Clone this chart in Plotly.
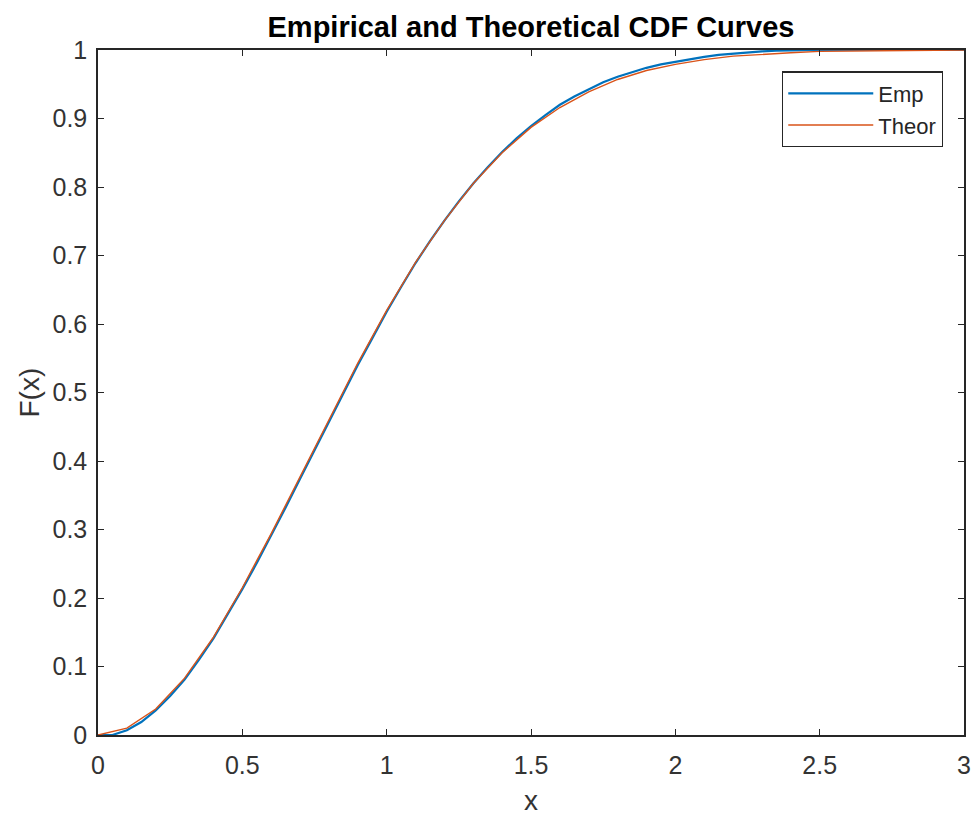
import plotly.graph_objects as go

# Theoretical CDF, x step 0.1
theor_x = [0.0, 0.1, 0.2, 0.3, 0.4, 0.5, 0.6, 0.7, 0.8, 0.9, 1.0, 1.1, 1.2, 1.3, 1.4, 1.5,
           1.6, 1.7, 1.8, 1.9, 2.0, 2.1, 2.2, 2.3, 2.4, 2.5, 2.6, 2.7, 2.8, 2.9, 3.0]
theor_y = [0.0, 0.010, 0.038, 0.083, 0.143, 0.215, 0.294, 0.377, 0.461, 0.543, 0.620, 0.690,
           0.751, 0.805, 0.850, 0.887, 0.916, 0.939, 0.957, 0.970, 0.979, 0.986, 0.991, 0.994,
           0.996, 0.998, 0.9986, 0.9991, 0.9995, 0.9997, 0.9998]

# Empirical CDF
emp_x = [0.0, 0.05, 0.1, 0.15, 0.2, 0.25, 0.3, 0.35, 0.4, 0.45, 0.5, 0.55, 0.6, 0.65, 0.7,
         0.75, 0.8, 0.85, 0.9, 0.95, 1.0, 1.05, 1.1, 1.15, 1.2, 1.25, 1.3, 1.35, 1.4, 1.45,
         1.5, 1.55, 1.6, 1.65, 1.7, 1.75, 1.8, 1.85, 1.9, 1.95, 2.0, 2.05, 2.1, 2.15, 2.2,
         2.25, 2.3, 2.35, 2.4, 2.5, 3.0]
emp_y = [0.0, 0.0, 0.007, 0.019, 0.036, 0.057, 0.081, 0.110, 0.141, 0.176, 0.213, 0.251,
         0.291, 0.332, 0.374, 0.416, 0.458, 0.499, 0.540, 0.579, 0.618, 0.654, 0.689, 0.721,
         0.751, 0.779, 0.805, 0.829, 0.851, 0.871, 0.889, 0.905, 0.920, 0.932, 0.943, 0.953,
         0.961, 0.968, 0.974, 0.979, 0.983, 0.987, 0.990, 0.993, 0.995, 0.997, 0.998, 0.999,
         0.9995, 1.0, 1.0]

x_ticks = [0, 0.5, 1, 1.5, 2, 2.5, 3]
x_tick_labels = ["0", "0.5", "1", "1.5", "2", "2.5", "3"]
y_ticks = [0, 0.1, 0.2, 0.3, 0.4, 0.5, 0.6, 0.7, 0.8, 0.9, 1]
y_tick_labels = ["0", "0.1", "0.2", "0.3", "0.4", "0.5", "0.6", "0.7", "0.8", "0.9", "1"]

FONT = "Liberation Sans, Arial, Helvetica, sans-serif"
AX = "#262626"

fig = go.Figure()
fig.add_trace(go.Scatter(x=emp_x, y=emp_y, mode="lines", name="Emp",
                         line=dict(color="#0072BD", width=2.2)))
fig.add_trace(go.Scatter(x=theor_x, y=theor_y, mode="lines", name="Theor",
                         line=dict(color="#D95319", width=1.4)))

axis_common = dict(showline=True, linecolor=AX, linewidth=1.5, mirror="ticks",
                   ticks="inside", ticklen=6, tickwidth=1.3, tickcolor=AX,
                   showgrid=False, zeroline=False, automargin=False,
                   tickfont=dict(family=FONT, size=25, color="#333333"))

fig.update_layout(
    width=974, height=815,
    margin=dict(l=98, r=10, t=50, b=80),
    paper_bgcolor="white", plot_bgcolor="white",
    showlegend=True,
    legend=dict(x=0.9757, y=0.969, xanchor="right", yanchor="top",
                bordercolor=AX, borderwidth=1.3, bgcolor="white",
                font=dict(family=FONT, size=22, color=AX),
                tracegroupgap=0, itemwidth=85),
    title=dict(text="<b>Empirical and Theoretical CDF Curves</b>",
               x=0.5, xref="paper", y=1 - 27 / 815, yref="container",
               xanchor="center", yanchor="middle",
               font=dict(family=FONT, size=29, color="black")),
)
fig.update_xaxes(range=[0, 3], tickvals=x_ticks, ticktext=x_tick_labels,
                 ticklabelstandoff=7, **axis_common)
fig.update_yaxes(range=[0, 1], tickvals=y_ticks, ticktext=y_tick_labels,
                 ticklabelstandoff=4, **axis_common)

fig.add_annotation(text="x", xref="paper", yref="paper", x=0.5, y=0,
                   yshift=-65, xanchor="center", yanchor="middle", showarrow=False,
                   font=dict(family=FONT, size=28, color="#333333"))
fig.add_annotation(text="F(x)", xref="paper", yref="paper", x=0, y=0.5,
                   xshift=-69, xanchor="center", yanchor="middle", showarrow=False,
                   textangle=-90, font=dict(family=FONT, size=28, color="#333333"))

fig.write_html("out.html", config={"displayModeBar": False},
               post_script="document.body.style.margin='0';"
                           "document.documentElement.style.overflow='hidden';")
